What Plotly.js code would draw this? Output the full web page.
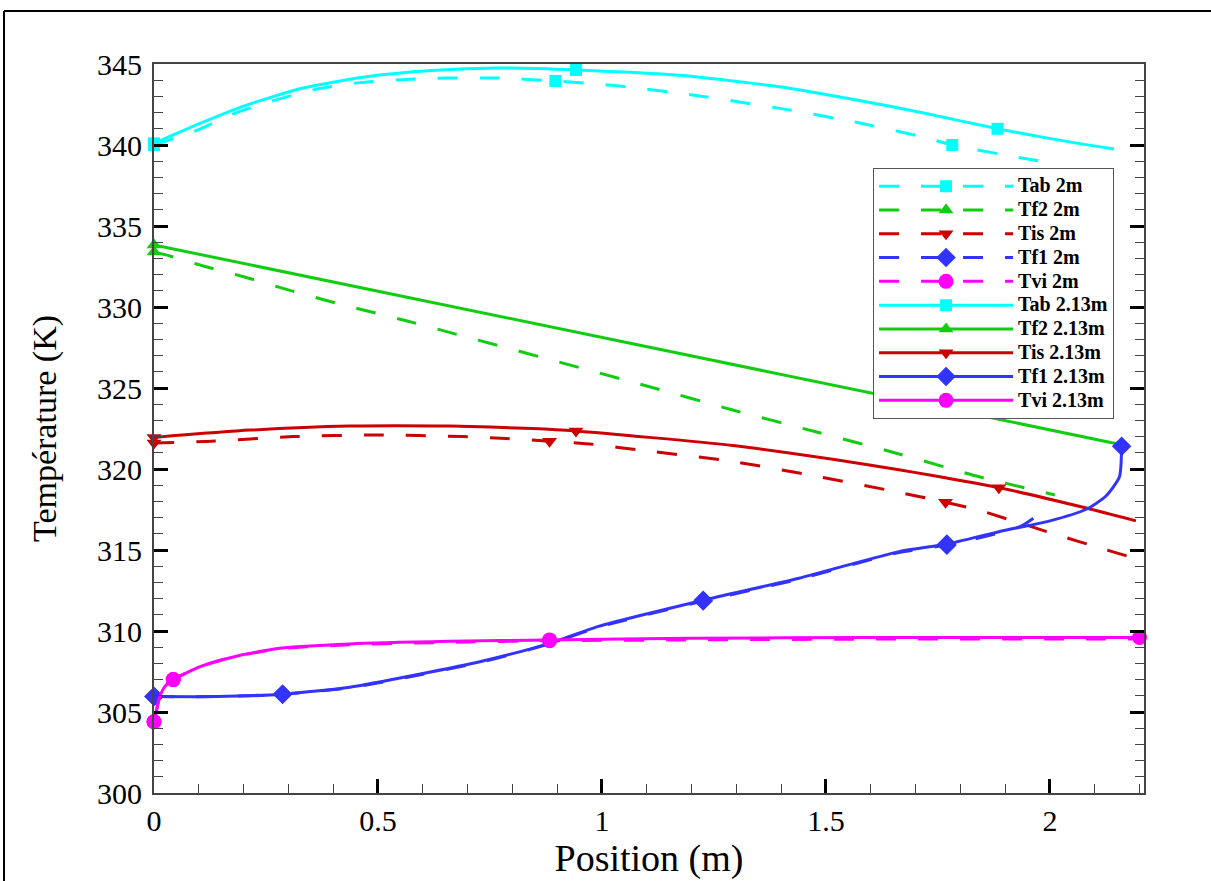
<!DOCTYPE html>
<html>
<head>
<meta charset="utf-8">
<script src="https://cdn.plot.ly/plotly-3.0.1.min.js"></script>
<style>html,body{margin:0;padding:0;background:#fff;}#chart{width:1211px;height:881px;}</style>
</head>
<body>
<div id="chart"></div>
<script>
// ---- Data ----
// Tab
const tab2_x   = [0, 0.095, 0.184, 0.274, 0.363, 0.459, 0.563, 0.653, 0.771, 0.896, 1.039, 1.225, 1.41, 1.578, 1.715, 1.782, 1.90, 1.994];
const tab2_y   = [340.0, 340.9, 342.0, 342.8, 343.45, 343.85, 344.05, 344.13, 344.13, 343.95, 343.64, 343.0, 342.2, 341.34, 340.5, 340.0, 339.38, 338.93];
const tab2_mx  = [0, 0.896, 1.782];
const tab2_my  = [340.0, 343.95, 340.0];
const tab213_x = [0, 0.1, 0.2, 0.33, 0.47, 0.62, 0.771, 0.942, 1.173, 1.396, 1.574, 1.723, 1.883, 2.02, 2.143];
const tab213_y = [340.1, 341.3, 342.4, 343.5, 344.2, 344.6, 344.75, 344.63, 344.3, 343.6, 342.75, 341.95, 341.0, 340.3, 339.75];
const tab213_mx = [0, 0.942, 1.883];
const tab213_my = [340.1, 344.63, 341.0];
// Tf2
const tf22_x   = [0, 0.036, 0.11, 0.2, 0.288, 0.381, 0.474, 0.563, 1.106, 1.292, 1.477, 1.663, 1.842, 2.011];
const tf22_y   = [333.4, 333.15, 332.53, 331.87, 331.15, 330.43, 329.77, 329.15, 325.08, 323.64, 322.3, 320.93, 319.52, 318.4];
const tf22_mx  = [0];
const tf22_my  = [333.4];
const tf2213_x = [0, 2.16];
const tf2213_y = [333.83, 321.5];
const tf2213_mx = [0];
const tf2213_my = [333.83];
// Tis
const tis2_x   = [0, 0.117, 0.311, 0.497, 0.69, 0.786, 0.883, 0.98, 1.09, 1.284, 1.47, 1.656, 1.767, 1.842, 2.02, 2.109, 2.2];
const tis2_y   = [321.6, 321.7, 322.0, 322.1, 322.0, 321.88, 321.72, 321.52, 321.15, 320.5, 319.6, 318.6, 317.95, 317.45, 315.9, 315.15, 314.4];
const tis2_mx  = [0, 0.883, 1.767];
const tis2_my  = [321.6, 321.72, 317.95];
const tis213_x = [0, 0.214, 0.437, 0.66, 0.846, 0.942, 1.292, 1.515, 1.663, 1.738, 1.886, 2.072, 2.192];
const tis213_y = [321.95, 322.4, 322.65, 322.65, 322.5, 322.35, 321.45, 320.6, 319.95, 319.6, 318.85, 317.65, 316.8];
const tis213_mx = [0, 0.942, 1.886];
const tis213_my = [321.95, 322.35, 318.85];
// Tf1
const tf12_x   = [0, 0.14, 0.287, 0.437, 0.586, 0.734, 0.883, 0.994, 1.226, 1.44, 1.663, 1.77, 1.886, 1.938, 1.98];
const tf12_y   = [305.95, 305.95, 306.1, 306.5, 307.25, 308.1, 309.2, 310.25, 311.85, 313.2, 314.85, 315.3, 316.05, 316.5, 317.3];
const tf12_mx  = [0, 0.287, 1.226, 1.77];
const tf12_my  = [305.95, 306.1, 311.85, 315.3];
const tf1213_x = [0, 0.14, 0.287, 0.437, 0.586, 0.734, 0.883, 0.994, 1.226, 1.44, 1.663, 1.77, 1.886, 2.0, 2.08, 2.124, 2.155, 2.16];
const tf1213_y = [305.95, 305.95, 306.1, 306.53, 307.3, 308.15, 309.24, 310.3, 311.9, 313.26, 314.9, 315.37, 316.13, 316.8, 317.5, 318.3, 319.5, 321.4];
const tf1213_mx = [0, 0.287, 1.226, 1.77, 2.16];
const tf1213_my = [305.95, 306.1, 311.9, 315.37, 321.4];
// Tvi
const tvi2_x   = [0, 0.004, 0.013, 0.025, 0.043, 0.103, 0.177, 0.281, 0.437, 0.66, 0.883, 1.2, 1.6, 2.0, 2.2];
const tvi2_y   = [304.4, 304.9, 305.95, 306.6, 307.0, 307.8, 308.4, 308.9, 309.15, 309.3, 309.4, 309.45, 309.5, 309.5, 309.5];
const tvi2_mx  = [0, 0.043, 0.883];
const tvi2_my  = [304.4, 307.0, 309.4];
const tvi213_x = [0, 0.004, 0.013, 0.025, 0.043, 0.103, 0.177, 0.281, 0.437, 0.66, 0.883, 1.2, 1.6, 2.0, 2.2];
const tvi213_y = [304.4, 304.9, 305.95, 306.6, 307.0, 307.8, 308.4, 308.93, 309.2, 309.36, 309.45, 309.55, 309.6, 309.6, 309.6];
const tvi213_mx = [0, 0.043, 0.883, 2.2];
const tvi213_my = [304.4, 307.0, 309.45, 309.6];

const names = ['Tab 2m','Tf2 2m','Tis 2m','Tf1 2m','Tvi 2m','Tab 2.13m','Tf2 2.13m','Tis 2.13m','Tf1 2.13m','Tvi 2.13m'];

// ---- Styles ----
const C = {tab:'#00FFFF', tf2:'#11CC11', tis:'#CC0000', tf1:'#3333FF', tvi:'#FF00FF'};
const SYM = {tab:['square',12], tf2:['triangle-up',13], tis:['triangle-down',13], tf1:['diamond',15], tvi:['circle',15]};
const DASH = '20px,22px';

const series = [
  ['tab', tab2_x, tab2_y, tab2_mx, tab2_my, DASH, names[0]],
  ['tf2', tf22_x, tf22_y, tf22_mx, tf22_my, DASH, names[1]],
  ['tis', tis2_x, tis2_y, tis2_mx, tis2_my, DASH, names[2]],
  ['tf1', tf12_x, tf12_y, tf12_mx, tf12_my, DASH, names[3]],
  ['tvi', tvi2_x, tvi2_y, tvi2_mx, tvi2_my, DASH, names[4]],
  ['tab', tab213_x, tab213_y, tab213_mx, tab213_my, 'solid', names[5]],
  ['tf2', tf2213_x, tf2213_y, tf2213_mx, tf2213_my, 'solid', names[6]],
  ['tis', tis213_x, tis213_y, tis213_mx, tis213_my, 'solid', names[7]],
  ['tf1', tf1213_x, tf1213_y, tf1213_mx, tf1213_my, 'solid', names[8]],
  ['tvi', tvi213_x, tvi213_y, tvi213_mx, tvi213_my, 'solid', names[9]]
];

const traces = [];
series.forEach(([k, x, y, mx, my, dash, name], i) => {
  traces.push({x: x, y: y, type:'scatter', mode:'lines', line:{color:C[k], width:3, dash:dash, shape:'spline', smoothing:0.6},
    showlegend:false, legendgroup:'g'+i, hoverinfo:'skip'});
  traces.push({x: mx, y: my, type:'scatter', mode:'markers', cliponaxis:false,
    marker:{color:C[k], symbol:SYM[k][0], size:SYM[k][1], line:{width:0}}, showlegend:false, legendgroup:'g'+i});
});
// legend entries
series.forEach(([k, x, y, mx, my, dash, name], i) => {
  traces.push({x:[null], y:[null], type:'scatter', mode:'lines+markers',
    name:'<span style="font-size:20px">' + name + '</span>', legendgroup:'g'+i,
    line:{color:C[k], width:3, dash:dash}, marker:{color:C[k], symbol:SYM[k][0], size:SYM[k][1]}});
});

const serif = 'Liberation Serif';
const layout = {
  width:1211, height:881,
  paper_bgcolor:'#fff', plot_bgcolor:'#fff',
  margin:{l:154, r:67, t:64, b:88},
  showlegend:true,
  legend:{x:0.7263, y:0.857, xanchor:'left', yanchor:'top', bgcolor:'#fff', bordercolor:'#555', borderwidth:1,
    font:{family:serif, size:16, color:'#000', weight:'bold'}, itemwidth:134, tracegroupgap:0},
  xaxis:{range:[0,2.21], tick0:0, dtick:0.5, ticks:'inside', ticklen:14, tickwidth:3, tickcolor:'#000',
    showline:true, linecolor:'#444', linewidth:2, mirror:true, showgrid:false, zeroline:false,
    minor:{dtick:0.1, ticks:'inside', ticklen:9, tickwidth:1, tickcolor:'#444'},
    tickfont:{family:serif, size:30, color:'#000'},
    title:{text:'Position (m)', font:{family:serif, size:38, color:'#000'}, standoff:0}},
  yaxis:{range:[300,345], tick0:300, dtick:5, ticks:'inside', ticklen:14, tickwidth:3, tickcolor:'#000',
    showline:true, linecolor:'#444', linewidth:2, mirror:'allticks', showgrid:false, zeroline:false,
    minor:{dtick:1, ticks:'inside', ticklen:9, tickwidth:1, tickcolor:'#444'},
    tickfont:{family:serif, size:30, color:'#000'}, ticklabelstandoff:4,
    title:{text:'Température (K)', font:{family:serif, size:34, color:'#000'}, standoff:30}},
  shapes:[
    {type:'line', xref:'paper', yref:'paper', x0:-0.1515, x1:1.07, y0:1.0727, y1:1.0727, line:{color:'#000', width:2}},
    {type:'line', xref:'paper', yref:'paper', x0:-0.1515, x1:-0.1515, y0:1.0727, y1:-0.125, line:{color:'#000', width:2}}
  ]
};

Plotly.newPlot('chart', traces, layout, {displayModeBar:false, staticPlot:true});
</script>
</body>
</html>
